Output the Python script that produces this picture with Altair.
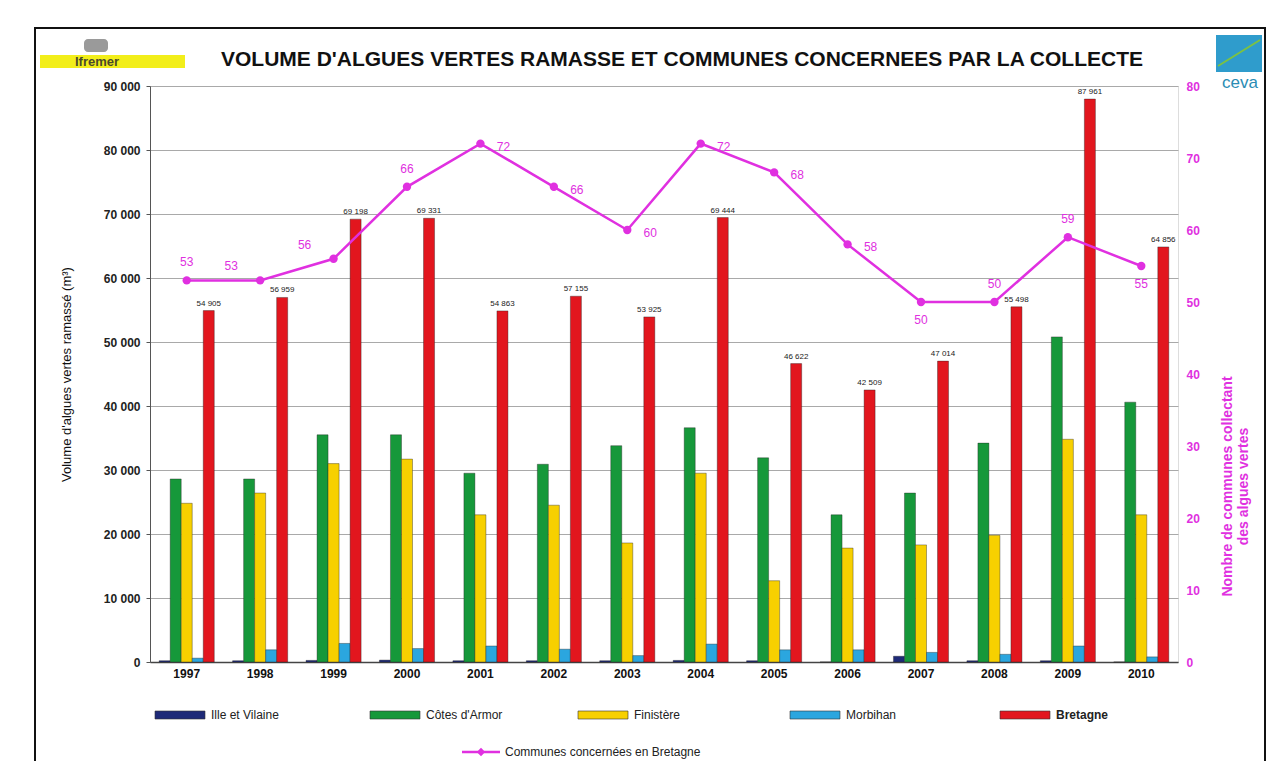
import altair as alt
import pandas as pd

# ---------------- data ----------------
years = [str(y) for y in range(1997, 2011)]
series = ["Ille et Vilaine", "Côtes d'Armor", "Finistère", "Morbihan", "Bretagne"]
colors = ["#1e2a78", "#16983a", "#f7d000", "#2ba6df", "#e2161e"]

ille_et_vilaine = [200, 200, 250, 300, 200, 200, 200, 250, 200, 0, 900, 200, 200, 0]
cotes_armor = [28600, 28600, 35500, 35500, 29500, 30900, 33800, 36600, 31900, 23000, 26400, 34200, 50800, 40600]
finistere = [24800, 26400, 31000, 31700, 23000, 24500, 18600, 29500, 12700, 17800, 18300, 19800, 34800, 23000]
morbihan = [600, 1900, 2900, 2100, 2500, 2000, 1000, 2800, 1900, 1900, 1500, 1200, 2500, 800]
bretagne = [54905, 56959, 69198, 69331, 54863, 57155, 53925, 69444, 46622, 42509, 47014, 55498, 87961, 64856]
communes = [53, 53, 56, 66, 72, 66, 60, 72, 68, 58, 50, 50, 59, 55]

line_name = "Communes concernées en Bretagne"
title_text = "VOLUME  D'ALGUES VERTES RAMASSE ET COMMUNES CONCERNEES PAR LA COLLECTE"
left_title = "Volume d'algues vertes ramassé (m³)"
right_title = ["Nombre de communes collectant", "des algues vertes"]

MAG = "#e030e0"
FONT = "Liberation Sans"

# ---------------- tables ----------------
cols = [ille_et_vilaine, cotes_armor, finistere, morbihan, bretagne]
rows = []
for s, vals in zip(series, cols):
    for y, v in zip(years, vals):
        rows.append({"year": y, "series": s, "value": v})
df = pd.DataFrame(rows)
df_line = pd.DataFrame({"year": years, "communes": communes})
one = pd.DataFrame({"k": [0]})

W, H = 1028, 576

x_enc = alt.X("year:N", sort=years,
              scale=alt.Scale(paddingInner=0.25, paddingOuter=0.125),
              axis=alt.Axis(title=None, labelAngle=0, labelFontSize=12, labelColor="#111",
                            labelFont=FONT, labelFontWeight="bold", ticks=False, labelPadding=6,
                            domainColor="#444", domainWidth=1.5))
y_left = alt.Y("value:Q",
               scale=alt.Scale(domain=[0, 90000], nice=False),
               axis=alt.Axis(values=list(range(0, 90001, 10000)),
                             labelExpr="datum.value == 0 ? '0' : format(datum.value/1000, 'd') + ' 000'",
                             grid=True, gridColor="#a9a9a9", gridWidth=1,
                             domainColor="#555", tickColor="#555", tickSize=4,
                             labelFontSize=12, labelFontWeight="bold", labelColor="#222",
                             labelFont=FONT, labelPadding=6,
                             title=left_title, titleFont=FONT, titleFontSize=13,
                             titleFontWeight="normal", titleColor="#111", titlePadding=30))

bars = alt.Chart(df).mark_bar(stroke="#222", strokeWidth=0.7, strokeOpacity=0.55).encode(
    x=x_enc,
    xOffset=alt.XOffset("series:N", sort=series, scale=alt.Scale(paddingInner=0, paddingOuter=0)),
    y=y_left,
    color=alt.Color("series:N", scale=alt.Scale(domain=series, range=colors), legend=None),
)

bar_labels = alt.Chart(df).transform_filter(
    alt.datum.series == "Bretagne"
).transform_calculate(
    txt="floor(datum.value/1000) + ' ' + format(datum.value % 1000, '03d')"
).mark_text(fontSize=8, font=FONT, color="#222", dy=-7).encode(
    x=alt.X("year:N", sort=years),
    xOffset=alt.XOffset("series:N", sort=series),
    y=alt.Y("value:Q", scale=alt.Scale(domain=[0, 90000], nice=False)),
    text="txt:N",
)

# ---------------- decorations / legend ----------------
deco = []
# outer frame
deco.append(alt.Chart(one).mark_rect(fill=None, stroke="#111", strokeWidth=2).encode(
    x=alt.value(-115), x2=alt.value(1115), y=alt.value(-58), y2=alt.value(700)))
# title
deco.append(alt.Chart(one).mark_text(text=title_text, font=FONT, fontSize=21, fontWeight="bold",
                                     color="#111").encode(x=alt.value(532), y=alt.value(-26)))
# Ifremer logo
deco.append(alt.Chart(one).mark_rect(fill="#9a9a9a", cornerRadius=4).encode(
    x=alt.value(-66), x2=alt.value(-42), y=alt.value(-47), y2=alt.value(-34)))
deco.append(alt.Chart(one).mark_rect(fill="#f2ee1a").encode(
    x=alt.value(-110), x2=alt.value(35), y=alt.value(-31), y2=alt.value(-18)))
deco.append(alt.Chart(one).mark_text(text="Ifremer", font=FONT, fontSize=13, fontWeight="bold",
                                     color="#4a4a2a").encode(x=alt.value(-53), y=alt.value(-24)))
# ceva logo
deco.append(alt.Chart(one).mark_rect(fill="#2f9ccc").encode(
    x=alt.value(1066), x2=alt.value(1112), y=alt.value(-51), y2=alt.value(-14)))
deco.append(alt.Chart(one).mark_rule(color="#7cc242", strokeWidth=2).encode(
    x=alt.value(1068), x2=alt.value(1110), y=alt.value(-20), y2=alt.value(-46)))
deco.append(alt.Chart(one).mark_text(text="ceva", font=FONT, fontSize=17,
                                     color="#2a8cb4").encode(x=alt.value(1090), y=alt.value(-3)))

# legend row 1
leg_x = [5, 220, 428, 640, 850]
for s, c, lx in zip(series, colors, leg_x):
    deco.append(alt.Chart(one).mark_rect(fill=c, stroke="#333", strokeWidth=0.6).encode(
        x=alt.value(lx), x2=alt.value(lx + 50), y=alt.value(625), y2=alt.value(633)))
    deco.append(alt.Chart(one).mark_text(text=s, font=FONT, fontSize=12, color="#222",
                                         align="left", fontWeight="bold" if s == "Bretagne" else "normal").encode(
        x=alt.value(lx + 56), y=alt.value(629)))
# legend row 2
deco.append(alt.Chart(one).mark_rule(color=MAG, strokeWidth=2.5).encode(
    x=alt.value(312), x2=alt.value(350), y=alt.value(666)))
deco.append(alt.Chart(one).mark_point(shape="diamond", filled=True, color=MAG, size=70, opacity=1).encode(
    x=alt.value(331), y=alt.value(666)))
deco.append(alt.Chart(one).mark_text(text=line_name, font=FONT, fontSize=12, color="#222",
                                     align="left").encode(x=alt.value(355), y=alt.value(666)))

left_group = alt.layer(bars, bar_labels, *deco)

# ---------------- line (right axis) ----------------
y_right_scale = alt.Scale(domain=[0, 80], nice=False)
line = alt.Chart(df_line).mark_line(color=MAG, strokeWidth=2.5).encode(
    x=alt.X("year:N", sort=years),
    y=alt.Y("communes:Q", scale=y_right_scale,
            axis=alt.Axis(orient="right", values=list(range(0, 81, 10)), grid=False,
                          domain=False, ticks=False, labelColor=MAG, labelFontSize=12,
                          labelFont=FONT, labelFontWeight="bold", labelPadding=8,
                          title=right_title, titleColor=MAG, titleFont=FONT, titleFontSize=14,
                          titleFontWeight="bold", titleAngle=270, titleX=56, titleY=400)),
)
pts = alt.Chart(df_line).mark_circle(color=MAG, size=70, opacity=1).encode(
    x=alt.X("year:N", sort=years),
    y=alt.Y("communes:Q", scale=y_right_scale),
)

placements = [
    (["1997", "2000", "2008", "2009"], 0, -18),
    (["1998", "1999"], -29, -14),
    (["2001", "2002", "2003", "2004", "2005", "2006"], 23, 3),
    (["2007", "2010"], 0, 18),
]
lab_layers = []
for yrs, dx, dy in placements:
    lab_layers.append(alt.Chart(df_line).transform_filter(
        alt.FieldOneOfPredicate(field="year", oneOf=yrs)
    ).mark_text(color=MAG, fontSize=12, font=FONT, dx=dx, dy=dy).encode(
        x=alt.X("year:N", sort=years),
        y=alt.Y("communes:Q", scale=y_right_scale),
        text="communes:Q",
    ))

right_group = alt.layer(line, pts, *lab_layers)

chart = alt.layer(left_group, right_group).resolve_scale(y="independent").properties(
    width=W, height=H,
    autosize=alt.AutoSizeParams(type="none"),
    padding={"left": 142, "top": 78, "right": 96, "bottom": 99},
).configure_view(fill="#c3c3c3", stroke=None).configure(background="white")

chart.save("out.html", embed_options={"renderer": "svg", "actions": False})
